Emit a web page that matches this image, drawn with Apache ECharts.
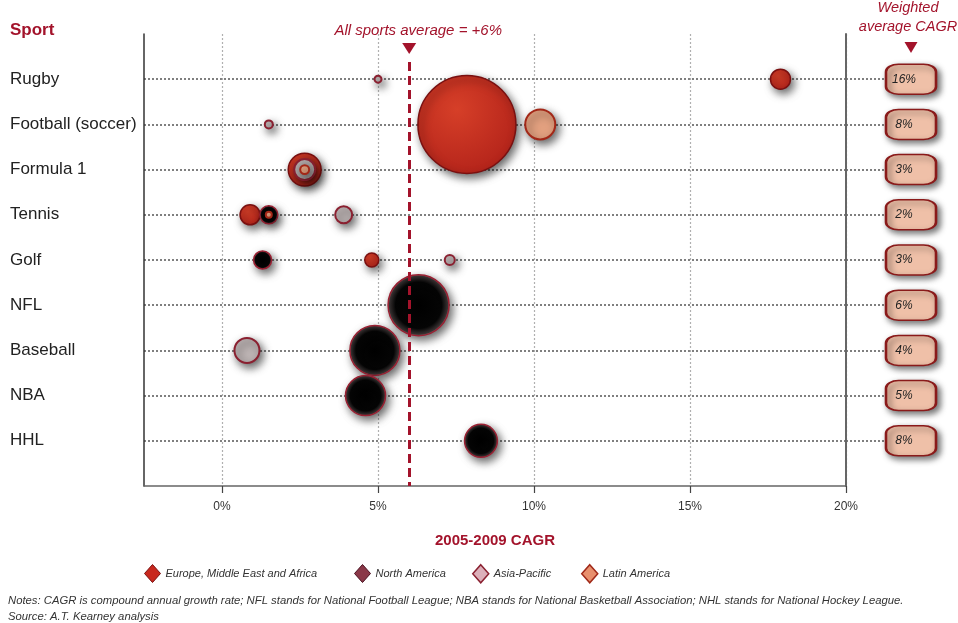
<!DOCTYPE html>
<html>
<head>
<meta charset="utf-8">
<script src="https://cdn.jsdelivr.net/npm/echarts@6/dist/echarts.min.js"></script>
<style>
html,body{margin:0;padding:0;background:#fff;}
#chart{width:958px;height:623px;}
</style>
</head>
<body>
<div id="chart"></div>
<script>
// ---- data ----
const sports = ['Rugby', 'Football (soccer)', 'Formula 1', 'Tennis', 'Golf', 'NFL', 'Baseball', 'NBA', 'HHL'];
const weightedCagr = [16, 8, 3, 2, 3, 6, 4, 5, 8];
const allSportsAverage = 6;
const xTicks = [0, 5, 10, 15, 20];
const regions = ['Europe, Middle East and Africa', 'North America', 'Asia-Pacific', 'Latin America'];
// [2005-2009 CAGR %, sport index, relative revenue (bubble area)]
const emea = [[17.9, 0, 1.0], [7.85, 1, 24.0], [2.65, 2, 2.7], [0.9, 3, 1.0], [4.8, 4, 0.49]];
const northAmerica = [[1.5, 3, 0.81], [1.3, 4, 0.81], [6.3, 5, 9.3], [4.9, 6, 6.25], [4.6, 7, 4.0], [8.3, 8, 2.7]];
const asiaPacific = [[5.0, 0, 0.12], [1.5, 1, 0.16], [2.65, 2, 1.1], [3.9, 3, 0.72], [7.3, 4, 0.25], [0.8, 6, 1.56]];
const latinAmerica = [[10.2, 1, 2.25], [2.65, 2, 0.2], [1.5, 3, 0.09]];
const notes = 'Notes: CAGR is compound annual growth rate; NFL stands for National Football League; NBA stands for National Basketball Association; NHL stands for National Hockey League.';
const source = 'Source: A.T. Kearney analysis';

// ---- styling ----
const FONT = 'Liberation Sans, Arial, sans-serif';
const DARKRED = '#a3132b';
const shadow = { shadowBlur: 8, shadowColor: 'rgba(0,0,0,0.6)', shadowOffsetX: 3, shadowOffsetY: 4, opacity: 1 };
const bubbleSize = v => 20 * Math.sqrt(v[2]);
const dotted = { color: '#555', type: [2, 2], width: 1.5 };

const regionStyles = [
  Object.assign({
    color: { type: 'radial', x: 0.4, y: 0.35, r: 0.7, colorStops: [{ offset: 0, color: '#d63f28' }, { offset: 1, color: '#b3231a' }] },
    borderColor: '#7a1010', borderWidth: 1.5
  }, shadow),
  Object.assign({
    color: { type: 'radial', x: 0.5, y: 0.5, r: 0.5, colorStops: [
      { offset: 0, color: '#000' }, { offset: 0.74, color: '#050505' }, { offset: 0.93, color: '#3a3434' }, { offset: 1, color: '#9a8a8a' }] },
    borderColor: '#9a2032', borderWidth: 1.5
  }, shadow),
  Object.assign({ color: '#bdb4b4', borderColor: '#8a2030', borderWidth: 2 }, shadow),
  Object.assign({ color: '#e2a07f', borderColor: '#a32818', borderWidth: 2 }, shadow)
];
const legendColors = [
  { color: '#c8281e', borderColor: '#7a1010', borderWidth: 1 },
  { color: '#8a3848', borderColor: '#4a1020', borderWidth: 1 },
  { color: '#dcb0ba', borderColor: '#8a2030', borderWidth: 1.5 },
  { color: '#e8906e', borderColor: '#a02818', borderWidth: 1.5 }
];
const legendLeft = [139, 349, 467, 576];
const regionData = [emea, northAmerica, asiaPacific, latinAmerica];

const chart = echarts.init(document.getElementById('chart'), null, { renderer: 'canvas' });

const option = {
  backgroundColor: '#fff',
  animation: false,
  textStyle: { fontFamily: FONT },
  title: {
    text: 'Sport', left: 10, top: 22, padding: 0,
    textStyle: { color: DARKRED, fontSize: 17, fontWeight: 'bold', fontFamily: FONT }
  },
  legend: regions.map((r, i) => ({
    data: [{ name: r, itemStyle: legendColors[i] }],
    left: legendLeft[i], top: 559, icon: 'diamond', itemWidth: 16, itemHeight: 18,
    selectedMode: false,
    textStyle: { fontSize: 11, fontStyle: 'italic', color: '#333', fontFamily: FONT }
  })),
  grid: [
    { left: 144, top: 34, width: 702, height: 452 },
    { left: 846, top: 34, width: 65, height: 452 }
  ],
  xAxis: [
    {
      gridIndex: 0, type: 'value', min: -2.5, max: 20,
      name: '2005-2009 CAGR', nameLocation: 'middle', nameGap: 47,
      nameTextStyle: { color: DARKRED, fontSize: 15, fontWeight: 'bold', fontFamily: FONT },
      axisLine: { show: true, onZero: false, lineStyle: { color: '#666', width: 1.5 } },
      axisTick: { show: true, customValues: xTicks, length: 7, inside: false, lineStyle: { color: '#444', width: 1.2 } },
      axisLabel: { customValues: xTicks, formatter: v => v + '%', margin: 15, fontSize: 12, color: '#333' },
      splitLine: { show: true, lineStyle: { color: '#b0b0b0', type: [2, 2], width: 1.2 } }
    },
    { gridIndex: 1, type: 'value', min: 0, max: 1, show: false }
  ],
  yAxis: [
    {
      gridIndex: 0, type: 'value', min: -1, max: 9, interval: 1, inverse: true,
      axisLine: { show: true, onZero: false, lineStyle: { color: '#333', width: 1.5 } },
      axisTick: { show: false },
      axisLabel: { formatter: v => sports[v] || '', align: 'left', margin: 134, fontSize: 17, color: '#222' },
      splitLine: { show: true, showMinLine: false, showMaxLine: false, lineStyle: dotted }
    },
    {
      gridIndex: 1, type: 'value', min: -1, max: 9, interval: 1, inverse: true, position: 'left',
      axisLine: { show: true, onZero: false, lineStyle: { color: '#666', width: 2 } },
      axisTick: { show: false }, axisLabel: { show: false },
      splitLine: { show: true, showMinLine: false, showMaxLine: false, lineStyle: dotted }
    }
  ],
  series: regions.map((r, i) => ({
    name: r, type: 'scatter', xAxisIndex: 0, yAxisIndex: 0, clip: false,
    data: regionData[i], symbolSize: bubbleSize, itemStyle: regionStyles[i], z: 2 + i * 0.1,
    emphasis: { disabled: true }
  })).concat([
    {
      name: 'avg', type: 'scatter', xAxisIndex: 0, yAxisIndex: 0, data: [], z: 5, silent: true,
      markLine: {
        silent: true, symbol: ['none', 'none'], animation: false,
        label: { show: false },
        lineStyle: { color: DARKRED, width: 3, type: [9, 5] },
        data: [[{ coord: [allSportsAverage, -0.38] }, { coord: [allSportsAverage, 9] }]]
      },
      markPoint: {
        silent: true, symbol: 'triangle', symbolSize: [14, 11], symbolRotate: 180,
        itemStyle: { color: DARKRED },
        label: {
          show: true, position: 'top', distance: 5, offset: [9, 0],
          formatter: 'All sports average = +' + allSportsAverage + '%',
          color: DARKRED, fontSize: 15, fontStyle: 'italic', fontFamily: FONT
        },
        data: [{ coord: [allSportsAverage, -0.68] }]
      }
    },
    {
      name: 'Weighted average CAGR', type: 'scatter', xAxisIndex: 1, yAxisIndex: 1, clip: false, z: 6,
      data: weightedCagr.map((v, i) => [1, i, v]),
      symbol: 'roundRect', symbolSize: [50, 30],
      itemStyle: { color: '#efc0a8', borderColor: '#8a1a1a', borderWidth: 2, opacity: 1,
        shadowBlur: 6, shadowColor: 'rgba(0,0,0,0.55)', shadowOffsetX: 3, shadowOffsetY: 3 },
      label: {
        show: true, position: 'inside', offset: [-7, 0],
        formatter: p => p.value[2] + '%',
        color: '#222', fontSize: 12, fontStyle: 'italic', fontFamily: FONT
      },
      emphasis: { disabled: true },
      markPoint: {
        silent: true, symbol: 'triangle', symbolSize: [13, 11], symbolRotate: 180,
        itemStyle: { color: DARKRED },
        label: {
          show: true, position: 'top', distance: 6, offset: [-3, 0],
          formatter: 'Weighted\naverage CAGR', lineHeight: 19,
          color: DARKRED, fontSize: 14.5, fontStyle: 'italic', fontFamily: FONT, align: 'center'
        },
        data: [{ coord: [1, -0.7] }]
      }
    }
  ]),
  graphic: [
    { type: 'text', left: 8, top: 595, style: { text: notes, fill: '#333', font: 'italic 11.3px ' + FONT } },
    { type: 'text', left: 8, top: 611, style: { text: source, fill: '#333', font: 'italic 11.3px ' + FONT } }
  ]
};
chart.setOption(option);
</script>
</body>
</html>
